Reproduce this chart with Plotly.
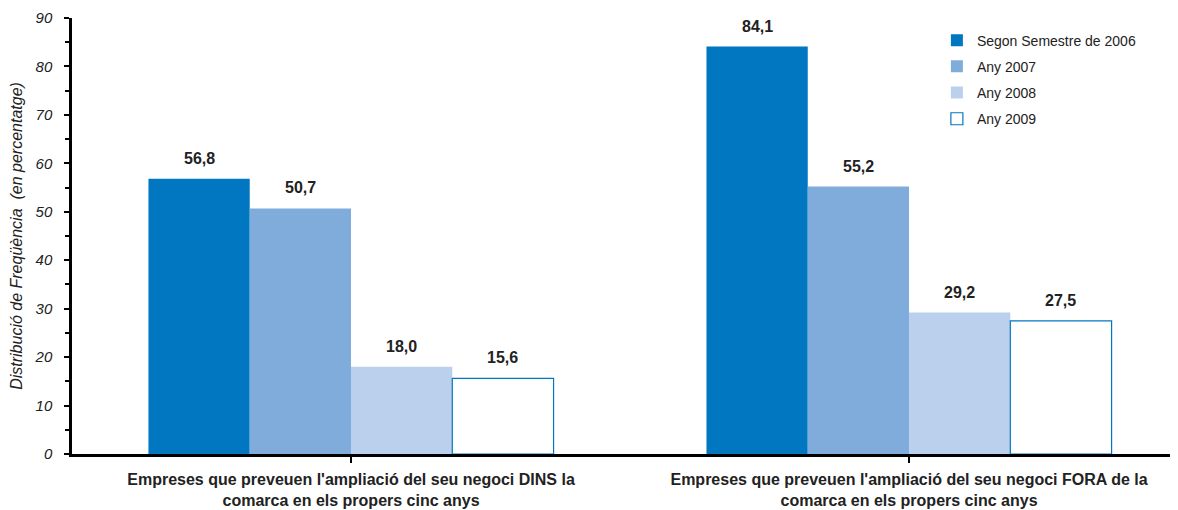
import plotly.graph_objects as go

categories = [
    "Empreses que preveuen l'ampliació del seu negoci DINS la<br>comarca en els propers cinc anys",
    "Empreses que preveuen l'ampliació del seu negoci FORA de la<br>comarca en els propers cinc anys",
]
series_names = ["Segon Semestre de 2006", "Any 2007", "Any 2008", "Any 2009"]
s2006 = [56.8, 84.1]
s2007 = [50.7, 55.2]
s2008 = [18.0, 29.2]
s2009 = [15.6, 27.5]
y_ticks = [0, 10, 20, 30, 40, 50, 60, 70, 80, 90]

all_series = [s2006, s2007, s2008, s2009]
fills = ["#0077C0", "#7FACDB", "#BBD0EC", "#FFFFFF"]
lines = ["#0077C0", "#7FACDB", "#BBD0EC", "#0077C0"]
line_w = [0, 0, 0, 1.2]

FONT = "Arial, Liberation Sans, sans-serif"
fig = go.Figure()
for i, (name, vals) in enumerate(zip(series_names, all_series)):
    fig.add_trace(go.Bar(
        x=[0, 1], y=vals, name=name,
        marker=dict(color=fills[i], line=dict(color=lines[i], width=line_w[i])),
        legendgroup=f"g{i}",
    ))

bargap = 0.274
w = (1 - bargap) / 4
for i, vals in enumerate(all_series):
    off = (i - 1.5) * w
    for c, v in enumerate(vals):
        fig.add_annotation(
            x=c + off, y=v, text=f"<b>{v:.1f}</b>".replace(".", ","),
            showarrow=False, yanchor="bottom", yshift=10,
            font=dict(family=FONT, size=16, color="#222222"),
        )

fig.update_layout(
    width=1170, height=502,
    margin=dict(l=64, r=0, t=10, b=56),
    paper_bgcolor="white", plot_bgcolor="white",
    barmode="group", bargap=bargap, bargroupgap=0,
    font=dict(family=FONT, size=14, color="#222222"),
    legend=dict(
        x=0.782, y=0.985, xanchor="left", yanchor="top",
        font=dict(family=FONT, size=14, color="#222222"),
        traceorder="grouped", tracegroupgap=5, itemwidth=30,
        bgcolor="rgba(0,0,0,0)",
    ),
    showlegend=True,
)
fig.update_xaxes(
    tickmode="array", tickvals=[0, 1], ticktext=[f"<b>{c}</b>" for c in categories],
    range=[-0.5, 1.482], tickson="boundaries",
    ticks="outside", ticklen=6, tickwidth=2, tickcolor="black",
    showline=True, linecolor="black", linewidth=2.5,
    showgrid=False, zeroline=False,
    tickfont=dict(family=FONT, size=16, color="#222222"),
    ticklabelstandoff=3,
)
fig.update_yaxes(
    range=[0, 90], tickmode="array", tickvals=y_ticks,
    ticktext=[f"<i>{t}</i>" for t in y_ticks],
    ticks="outside", ticklen=5, tickwidth=2, tickcolor="black",
    minor=dict(ticks="outside", dtick=5, ticklen=4, tickwidth=2, tickcolor="black", showgrid=False),
    showline=True, linecolor="black", linewidth=2.5,
    showgrid=False, zeroline=False,
    tickfont=dict(family=FONT, size=15, color="#222222"),
    ticklabelstandoff=9,
    title=dict(text="<i>Distribució de Freqüència  (en percentatge)</i>",
               font=dict(family=FONT, size=16, color="#222222"), standoff=9),
)
fig.write_html("out.html")
